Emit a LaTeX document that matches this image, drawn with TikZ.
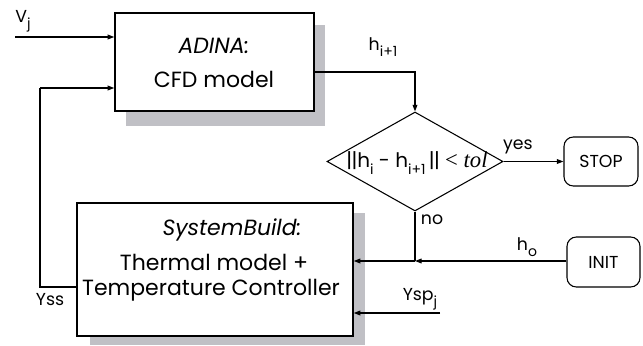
\documentclass[tikz,border=0pt]{standalone}
\usepackage{fontspec}
\setmainfont{Poppins}
\newfontfamily\seriffont{Liberation Serif}
\usetikzlibrary{shapes.geometric,arrows.meta}
\definecolor{shadowgray}{RGB}{192,192,197}
\newcommand\sbs[1]{\raisebox{-0.6ex}{\fontsize{10.5}{10.5}\selectfont #1}}
\begin{document}
\begin{tikzpicture}[x=0.75pt,y=-0.75pt,
  box/.style={draw,line width=1.1pt,fill=white,inner sep=0pt,align=center},
  shadowbox/.style={fill=shadowgray,draw=none},
  rbox/.style={draw,line width=0.8pt,rounded corners=7pt,inner sep=0pt,font=\fontsize{13}{15}\selectfont},
  arr/.style={line width=0.8pt,-{Triangle[length=5pt,width=3.6pt]}},
  ln/.style={line width=0.8pt},
  lab/.style={font=\fontsize{13}{15}\selectfont,inner sep=0pt},
  big/.style={font=\fontsize{16.5}{22}\selectfont}]
\useasboundingbox (0,0) rectangle (643,346);
% shadows
\fill[shadowbox] (126,25) rectangle (325,126);
\fill[shadowbox] (90,213) rectangle (365,345);
% boxes
\node[box,minimum width=149.25pt,minimum height=73.5pt] (adina) at (214.5,62) {};
\node[big] (adinat) at (214,46) {\itshape ADINA:};
\node[big] (adinab) at (214,79) {CFD model};
\node[box,minimum width=207pt,minimum height=99.75pt] (sb) at (215,269.5) {};
\node[big] (sb1) at (232,230) {\itshape SystemBuild:};
\node[big] (sb2) at (214,262) {Thermal model +};
\node[big] (sb3) at (211,290) {Temperature Controller};
\node[draw,diamond,line width=0.8pt,minimum width=132pt,minimum height=74.25pt,inner sep=0pt] (dia) at (415,161.5) {};
\node[inner sep=0pt,font=\fontsize{15}{16}\selectfont] (diat) at (417,163) {|\kern-0.5pt|h\sbs{i} - h\sbs{i+1}\,|\kern-0.5pt| {\seriffont\fontsize{17}{17}\selectfont < \itshape tol}};
\node[rbox,minimum width=55.5pt,minimum height=36.75pt] (stop) at (601,161.5) {STOP};
\node[rbox,minimum width=54.75pt,minimum height=37.5pt] (init) at (603.5,262) {INIT};
% coordinates
\coordinate (vj) at (15,37);
\coordinate (ysp) at (440,313);
\coordinate (fb) at (40,287);
\coordinate (jn) at (415,261);
% connectors
\draw[arr] (vj) -- (vj -| adina.west);
\draw[arr] ([yshift=-7.5pt]adina.east) -| (dia.north);
\draw[arr] (dia.east) -- (stop.west);
\draw[ln] (dia.south) -- (jn);
\draw[arr] (init.west |- jn) -- (jn);
\draw[arr] (jn) -- (jn -| sb.east);
\draw[arr] (ysp) -- (ysp -| sb.east);
\draw[ln] (fb -| sb.west) -- (fb) -- (40,88);
\draw[arr] (40,88) -- ([yshift=-19.5pt]adina.west);
% labels
\node[lab] (lvj) at (23,21) {V\sbs{j}};
\node[lab] (lh) at (383,47) {h\sbs{i+1}};
\node[lab] (lyes) at (518,147) {yes};
\node[lab] (lno) at (432,220) {no};
\node[lab] (lho) at (527,247) {h\sbs{o}};
\node[lab] (lysp) at (420,299) {Ysp\sbs{j}};
\node[lab] (lyss) at (50,300) {Yss};
\end{tikzpicture}
\end{document}
